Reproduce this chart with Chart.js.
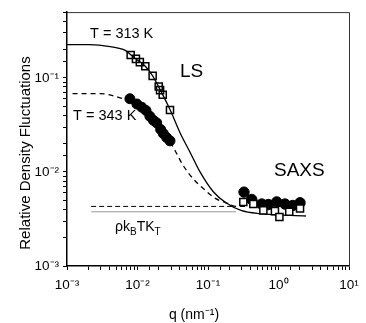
<!DOCTYPE html>
<html>
<head>
<meta charset="utf-8">
<script src="https://cdn.jsdelivr.net/npm/chart.js@4/dist/chart.umd.min.js"></script>
<style>
  html, body { margin: 0; padding: 0; background: #fff; }
  #wrap { width: 366px; height: 323px; position: relative; }
</style>
</head>
<body>
<div id="wrap"><canvas id="chart"></canvas></div>
<script>
// LS data (light scattering)
const lsQ313 = [0.0080, 0.0095, 0.0108, 0.0129, 0.0164, 0.0200, 0.0209, 0.0228, 0.0289];
const ls313 = [0.175, 0.159, 0.147, 0.133, 0.105, 0.081, 0.074, 0.066, 0.0456];
const lsQ343 = [0.0078, 0.0098, 0.0115, 0.0132, 0.0150, 0.0168, 0.0187, 0.0213, 0.0232, 0.0259, 0.0289];
const ls343 = [0.060, 0.0527, 0.0487, 0.045, 0.039, 0.0354, 0.0332, 0.0283, 0.0256, 0.0232, 0.0214];

// SAXS data
const saxsQ313 = [0.317, 0.44, 0.61, 0.89, 1.03, 1.42, 2.02];
const saxs313 = [0.0048, 0.00456, 0.0039, 0.00383, 0.00332, 0.00377, 0.00408];
const saxsQ343 = [0.324, 0.417, 0.578, 0.717, 0.942, 1.236, 1.59, 2.02];
const saxs343 = [0.0061, 0.0051, 0.00456, 0.0045, 0.0048, 0.00456, 0.0044, 0.0047];

// fitted curves
const fitQ313 = [0.001, 0.0021, 0.0041, 0.0067, 0.008, 0.0108, 0.0129, 0.0164, 0.0209, 0.0289, 0.0401, 0.0556, 0.0771, 0.118, 0.18, 0.294, 0.547, 2.45];
const fit313 = [0.226, 0.226, 0.215, 0.196, 0.176, 0.148, 0.133, 0.105, 0.075, 0.046, 0.0261, 0.0162, 0.0100, 0.0062, 0.0047, 0.0039, 0.0036, 0.0034];
const fitQ343 = [0.0012, 0.0029, 0.0062, 0.0108, 0.015, 0.0208, 0.0289, 0.034, 0.0442, 0.0612, 0.0849, 0.129, 0.18, 0.249, 2.02];
const fit343 = [0.068, 0.068, 0.060, 0.050, 0.039, 0.029, 0.021, 0.0169, 0.0118, 0.0085, 0.0067, 0.0052, 0.0047, 0.0043, 0.0043];

// rho kB T KT levels
const limQ = [0.0022, 0.25];
const lim343 = [0.0043, 0.0043];
const lim313 = [0.00377, 0.00377];

// axis ticks
const xMajor = [1e-3, 1e-2, 1e-1, 1, 10];
const yMajor = [1e-3, 1e-2, 1e-1];

const FONT = '"Liberation Sans", Arial, sans-serif';
const sup = { "-": "\u207B", "0": "\u2070", "1": "\u00B9", "2": "\u00B2", "3": "\u00B3" };

function pts(qs, vs) {
    return qs.map((q, i) => ({ x: q, y: vs[i] }));
}

function powLabel(majors) {
    return function (value) {
        const hit = majors.find(m => Math.abs(m - value) / m < 1e-6);
        if (hit === undefined) return "";
        const e = String(Math.round(Math.log10(hit)));
        return "10" + e.split("").map(c => sup[c]).join("");
    };
}

const textPlugin = {
    id: "texts",
    afterDraw(chart) {
        const { ctx, chartArea: a, scales: { x, y } } = chart;
        ctx.save();
        // frame top / right
        ctx.strokeStyle = "#333";
        ctx.lineWidth = 1;
        ctx.beginPath();
        ctx.moveTo(a.left, a.top + 0.5);
        ctx.lineTo(a.right + 0.5, a.top + 0.5);
        ctx.lineTo(a.right + 0.5, a.bottom);
        ctx.stroke();

        ctx.fillStyle = "#000";
        ctx.textBaseline = "middle";
        ctx.textAlign = "left";
        ctx.font = "14.5px " + FONT;
        ctx.fillText("T = 313 K", x.getPixelForValue(0.00212), y.getPixelForValue(0.294));
        ctx.fillText("T = 343 K", x.getPixelForValue(0.00122), y.getPixelForValue(0.0393));
        ctx.font = "19px " + FONT;
        ctx.fillText("LS", x.getPixelForValue(0.0401), y.getPixelForValue(0.115));
        ctx.fillText("SAXS", x.getPixelForValue(0.863), y.getPixelForValue(0.0102));

        // rho k_B T K_T
        ctx.textBaseline = "alphabetic";
        let px = x.getPixelForValue(0.0048);
        const py = y.getPixelForValue(0.00237);
        const parts = [["\u03C1k", 14, 0], ["B", 10, 4], ["TK", 14, 0], ["T", 10, 4]];
        parts.forEach(([t, s, dy]) => {
            ctx.font = s + "px " + FONT;
            ctx.fillText(t, px, py + dy);
            px += ctx.measureText(t).width;
        });

        // axis titles
        ctx.textBaseline = "middle";
        ctx.textAlign = "center";
        ctx.font = "14px " + FONT;
        ctx.fillText("q (nm\u207B\u00B9)", 194, 315);
        ctx.translate(26, 153);
        ctx.rotate(-Math.PI / 2);
        ctx.font = "15px " + FONT;
        ctx.fillText("Relative Density Fluctuations", 0, 0);
        ctx.restore();
    }
};

new Chart(document.getElementById("chart"), {
    type: "scatter",
    data: {
        datasets: [
            {
                label: "SAXS 313 K",
                data: pts(saxsQ313, saxs313),
                pointStyle: "rect",
                pointRadius: 5,
                borderColor: "#000",
                borderWidth: 1.5,
                backgroundColor: "#fff"
            },
            {
                label: "SAXS 343 K",
                data: pts(saxsQ343, saxs343),
                pointStyle: "circle",
                pointRadius: 5.2,
                borderColor: "#000",
                backgroundColor: "#000"
            },
            {
                label: "LS 313 K",
                data: pts(lsQ313, ls313),
                pointStyle: "rect",
                pointRadius: 5,
                borderColor: "#000",
                borderWidth: 1.5,
                backgroundColor: "rgba(255,255,255,0)"
            },
            {
                label: "LS 343 K",
                data: pts(lsQ343, ls343),
                pointStyle: "circle",
                pointRadius: 5,
                borderColor: "#000",
                backgroundColor: "#000"
            },
            {
                label: "fit 313 K",
                data: pts(fitQ313, fit313),
                showLine: true,
                pointRadius: 0,
                borderColor: "#000",
                borderWidth: 1.3,
                cubicInterpolationMode: "monotone"
            },
            {
                label: "fit 343 K",
                data: pts(fitQ343, fit343),
                showLine: true,
                pointRadius: 0,
                borderColor: "#000",
                borderWidth: 1.3,
                borderDash: [5, 4],
                cubicInterpolationMode: "monotone"
            },
            {
                label: "rho kB T KT 343 K",
                data: pts(limQ, lim343),
                showLine: true,
                pointRadius: 0,
                borderColor: "#000",
                borderWidth: 1,
                borderDash: [5, 3]
            },
            {
                label: "rho kB T KT 313 K",
                data: pts(limQ, lim313),
                showLine: true,
                pointRadius: 0,
                borderColor: "#999",
                borderWidth: 1
            }
        ]
    },
    options: {
        responsive: true,
        maintainAspectRatio: false,
        animation: false,
        layout: { padding: { top: 7, right: 17, left: 0, bottom: 0 } },
        plugins: {
            legend: { display: false },
            tooltip: { enabled: false }
        },
        scales: {
            x: {
                type: "logarithmic",
                min: 1e-3,
                max: 10,
                afterFit: s => { s.height = 57; },
                border: { color: "#000", width: 1.5 },
                grid: { drawOnChartArea: false, tickLength: 4, color: "#000" },
                ticks: {
                    autoSkip: false,
                    maxRotation: 0,
                    padding: 7,
                    color: "#000",
                    font: { family: FONT, size: 13.5 },
                    callback: powLabel(xMajor)
                }
            },
            y: {
                type: "logarithmic",
                min: 1e-3,
                max: 0.5,
                afterFit: s => { s.width = 67; },
                border: { color: "#000", width: 1.5 },
                grid: { drawOnChartArea: false, tickLength: 4, color: "#000" },
                ticks: {
                    autoSkip: false,
                    padding: 4,
                    color: "#000",
                    font: { family: FONT, size: 13.5 },
                    callback: powLabel(yMajor)
                }
            }
        }
    },
    plugins: [textPlugin]
});
</script>
</body>
</html>
